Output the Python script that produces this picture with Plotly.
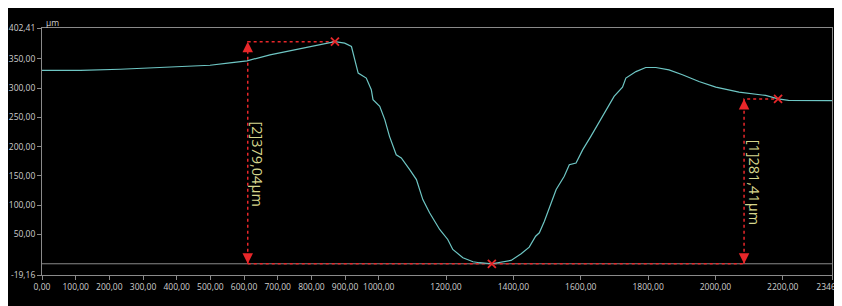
import plotly.graph_objects as go

# Profile data (µm)
profile_x = [0, 114, 232, 321, 410, 499, 558, 609, 677, 775, 827, 870, 899, 919, 929, 939, 963, 978,
             983, 1003, 1018, 1032, 1052, 1067, 1092, 1112, 1131, 1151, 1181, 1205, 1220, 1250, 1280,
             1299, 1336, 1359, 1393, 1423, 1447, 1466, 1477, 1492, 1507, 1527, 1551, 1566, 1586, 1606,
             1630, 1650, 1675, 1699, 1724, 1734, 1764, 1793, 1823, 1862, 1902, 1951, 2001, 2070, 2149,
             2186, 2217, 2276, 2336, 2346.16]
profile_y = [330.2, 330.0, 332.0, 334.5, 336.0, 338.8, 343.0, 346.4, 356.6, 368.0, 373.7, 379.04, 376.6,
             370.8, 348.0, 325.5, 317.0, 297.0, 280.0, 268.6, 246.0, 217.5, 186.0, 180.7, 160.7, 143.7,
             109.6, 87.0, 58.5, 41.5, 24.4, 10.3, 3.5, 1.8, 0.0, 1.8, 5.7, 17.0, 28.4, 47.0, 52.9, 72.7,
             95.5, 126.7, 149.3, 169.2, 172.0, 194.8, 217.5, 237.4, 260.0, 285.6, 301.3, 317.0, 328.0,
             335.0, 335.0, 331.0, 322.6, 311.0, 301.6, 293.0, 287.3, 281.41, 279.0, 278.3, 278.3, 278.3]

# Measurement points
marker_x = [870, 1336, 2186]
marker_y = [379.04, 0.0, 281.41]

# Measurement arrows: [2] left, [1] right
meas_labels = ["[2]379,04µm", "[1]281,41µm"]
meas_arrow_x = [611, 2085]
meas_top_y = [379.04, 281.41]
meas_point_x = [870, 2186]
meas_label_y = [170, 140]

x_tickvals = [0, 100, 200, 300, 400, 500, 600, 700, 800, 900, 1000, 1200, 1400, 1600, 1800, 2000, 2200, 2346.16]
x_ticktext = ["0,00", "100,00", "200,00", "300,00", "400,00", "500,00", "600,00", "700,00", "800,00",
              "900,00", "1000,00", "1200,00", "1400,00", "1600,00", "1800,00", "2000,00", "2200,00", "2346,16"]
y_tickvals = [-19.16, 50, 100, 150, 200, 250, 300, 350, 402.41]
y_ticktext = ["-19,16", "50,00", "100,00", "150,00", "200,00", "250,00", "300,00", "350,00", "402,41"]

x_min, x_max = 0, 2346.16
y_min, y_max = -19.16, 402.41

RED = "#e8272a"
GRID = "#8a8a8a"
TXT = "#cfcfcf"
LABEL = "#d6d68c"

fig = go.Figure()

# zero reference line
fig.add_trace(go.Scatter(x=[x_min, x_max], y=[0, 0], mode="lines",
                         line=dict(color=GRID, width=1), hoverinfo="skip", showlegend=False))

# bottom dotted measurement base line
fig.add_trace(go.Scatter(x=[meas_arrow_x[0], meas_arrow_x[1]], y=[0, 0], mode="lines",
                         line=dict(color=RED, width=1.5, dash="dot"), showlegend=False))

for ax_, ty, px in zip(meas_arrow_x, meas_top_y, meas_point_x):
    fig.add_trace(go.Scatter(x=[ax_, ax_, px], y=[0, ty, ty], mode="lines",
                             line=dict(color=RED, width=1.5, dash="dot"), showlegend=False))

# profile
fig.add_trace(go.Scatter(x=profile_x, y=profile_y, mode="lines",
                         line=dict(color="#6ec6c4", width=1.2), showlegend=False))

# markers
fig.add_trace(go.Scatter(x=marker_x, y=marker_y, mode="markers",
                         marker=dict(symbol="x-thin", size=8, line=dict(color=RED, width=1.8)),
                         showlegend=False))

annotations = []
for ax_, ty, lab, ly in zip(meas_arrow_x, meas_top_y, meas_labels, meas_label_y):
    annotations.append(dict(x=ax_, y=ty, xref="x", yref="y", ax=0, ay=10, text="", showarrow=True,
                            arrowhead=2, arrowsize=1.4, arrowwidth=1.5, arrowcolor=RED))
    annotations.append(dict(x=ax_, y=0, xref="x", yref="y", ax=0, ay=-10, text="", showarrow=True,
                            arrowhead=2, arrowsize=1.4, arrowwidth=1.5, arrowcolor=RED))
    annotations.append(dict(x=ax_, y=ly, xref="x", yref="y", text=lab, showarrow=False, textangle=90,
                            xshift=10, font=dict(color=LABEL, size=14.5, family="Open Sans")))

annotations.append(dict(x=0, y=1, xref="paper", yref="paper", text="µm", showarrow=False,
                        xanchor="left", yanchor="bottom", xshift=2, yshift=-2,
                        font=dict(color=TXT, size=8.5, family="Open Sans")))
annotations.append(dict(x=1, y=0, xref="paper", yref="paper", text="µm", showarrow=False,
                        xanchor="left", yanchor="middle", xshift=0, yshift=4,
                        font=dict(color=TXT, size=8, family="Open Sans")))

fig.update_layout(
    width=834, height=298,
    margin=dict(l=34, r=10, t=20, b=31, autoexpand=False),
    paper_bgcolor="black", plot_bgcolor="black",
    annotations=annotations,
    xaxis=dict(range=[x_min, x_max], tickvals=x_tickvals, ticktext=x_ticktext, showgrid=False,
               zeroline=False, showline=True, linecolor=GRID, linewidth=1, mirror=True,
               ticks="outside", ticklen=4, tickcolor=GRID, ticklabeloverflow="allow", automargin=False,
               tickfont=dict(color=TXT, size=8.5, family="Open Sans")),
    yaxis=dict(range=[y_min, y_max], tickvals=y_tickvals, ticktext=y_ticktext, showgrid=False,
               zeroline=False, showline=True, linecolor=GRID, linewidth=1, mirror=True,
               ticks="outside", ticklen=4, tickcolor=GRID, ticklabeloverflow="allow", automargin=False,
               tickfont=dict(color=TXT, size=8.5, family="Open Sans")),
)

fig.write_html("out.html")
